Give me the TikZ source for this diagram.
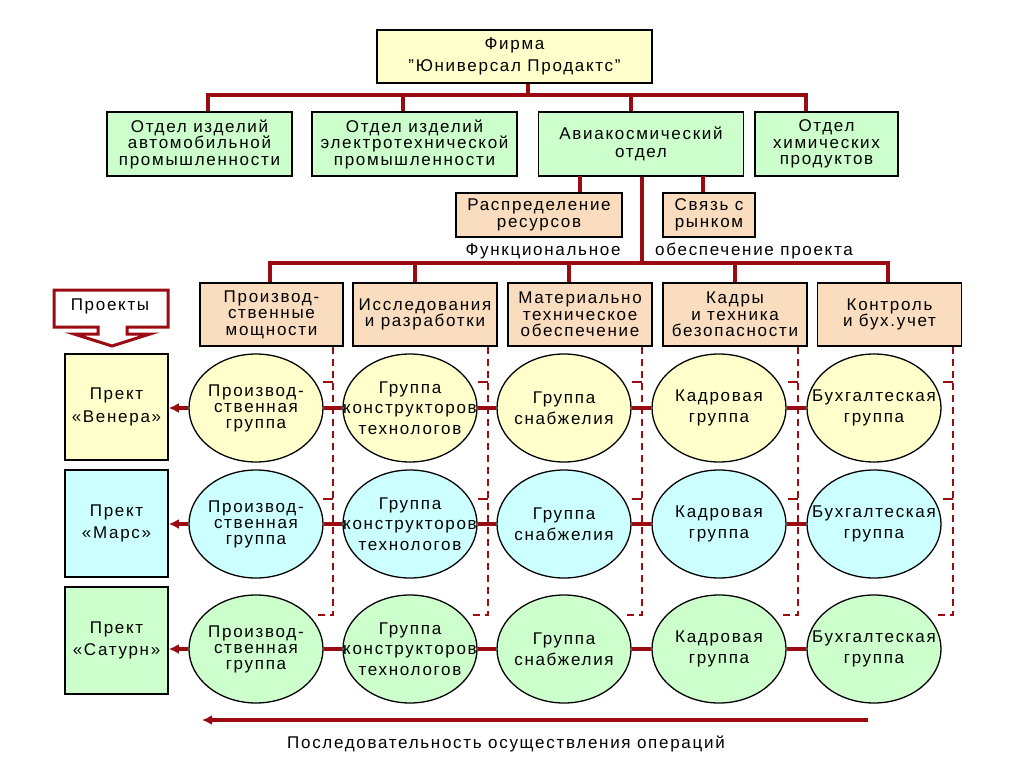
\documentclass[tikz,border=0pt]{standalone}
\usepackage{fontspec}
\setmainfont{Liberation Sans}[LetterSpace=10]
\usetikzlibrary{arrows.meta,shapes.geometric}
\definecolor{cred}{RGB}{155,12,18}
\definecolor{cyel}{RGB}{255,255,204}
\definecolor{cgrn}{RGB}{204,255,204}
\definecolor{cblu}{RGB}{204,255,255}
\definecolor{cpch}{RGB}{250,220,190}
\newcommand\fsz{\fontsize{17}{16.5}\selectfont}
\newcommand\fsze{\fontsize{17}{20.5}\selectfont}
\newcommand\qq{\char"22\relax}
\begin{document}
\begin{tikzpicture}[x=1pt,y=-1pt,
  bx/.style={draw=black, line width=1.6pt, align=center, inner sep=0pt, font=\fsz},
  conn/.style={draw=cred, line width=3.4pt},
  rowc/.style={draw=cred, line width=3.2pt},
  dsh/.style={draw=cred, line width=1.7pt, dash pattern=on 7pt off 5pt},
  ell/.style={draw=black, line width=1.3pt, ellipse, minimum width=134pt, minimum height=108pt, inner sep=0pt},
  etxt/.style={align=center, font=\fsze, inner sep=0pt},
  tip/.style={-{Latex[length=10pt,width=10pt]}}
]
\useasboundingbox (0,0) rectangle (1024,767);

% top level
\node[bx, fill=cyel, minimum width=275pt, minimum height=53pt] (firm) at (514.5,56.5) {Фирма\\[6pt]\qq Юниверсал Продактс\qq};

\node[bx, fill=cgrn, minimum width=185pt, minimum height=64pt] (d1) at (199.5,144) {Отдел изделий\\автомобильной\\промышленности};
\node[bx, fill=cgrn, minimum width=205pt, minimum height=64pt] (d2) at (414.5,144) {Отдел изделий\\электротехнической\\промышленности};
\node[bx, fill=cgrn, minimum width=205pt, minimum height=64pt] (d3) at (641,144) {Авиакосмический\\[2pt]отдел};
\node[bx, fill=cgrn, minimum width=143pt, minimum height=64pt] (d4) at (826.5,144) {Отдел\\химических\\продуктов};

\coordinate (fb) at (528,95);
\coordinate (b1) at (208,95);
\coordinate (b2) at (403,95);
\coordinate (b3) at (631,95);
\coordinate (b4) at (806,95);
\draw[conn] (firm.south -| fb) -- (fb);
\draw[conn] (b1 |- d1.north) -- (b1) -- (b4) -- (b4 |- d4.north);
\draw[conn] (b2) -- (b2 |- d2.north);
\draw[conn] (b3) -- (b3 |- d3.north);

% functional support
\node[bx, fill=cpch, minimum width=166pt, minimum height=44pt] (res) at (539,215) {Распределение\\ресурсов};
\node[bx, fill=cpch, minimum width=92pt, minimum height=44pt] (mkt) at (709,215) {Связь с\\рынком};
\node[font=\fsz, inner sep=0pt] (lab1) at (543,251) {Функциональное};
\node[font=\fsz, inner sep=0pt] (lab2) at (754,251) {обеспечение проекта};

\coordinate (r1) at (580,176);
\coordinate (r2) at (703,176);
\coordinate (fc) at (642,263);
\draw[conn] (r1) -- (r1 |- res.north);
\draw[conn] (r2) -- (r2 |- mkt.north);
\draw[conn] (d3.south -| fc) -- (fc);

% functional boxes
\node[bx, fill=cpch, minimum width=143pt, minimum height=63pt] (f1) at (271.5,314.5) {Производ-\\ственные\\мощности};
\node[bx, fill=cpch, minimum width=144pt, minimum height=63pt] (f2) at (425,314.5) {Исследования\\и разработки};
\node[bx, fill=cpch, minimum width=144pt, minimum height=63pt] (f3) at (580,314.5) {Материально\\техническое\\обеспечение};
\node[bx, fill=cpch, minimum width=144pt, minimum height=63pt] (f4) at (735,314.5) {Кадры\\и техника\\безопасности};
\node[bx, fill=cpch, minimum width=144pt, minimum height=63pt] (f5) at (889.5,314.5) {Контроль\\и бух.учет};

\coordinate (g1) at (270,263);
\coordinate (g2) at (415,263);
\coordinate (g3) at (569,263);
\coordinate (g4) at (735,263);
\coordinate (g5) at (888,263);
\draw[conn] (g1 |- f1.north) -- (g1) -- (g5) -- (g5 |- f5.north);
\draw[conn] (g2) -- (g2 |- f2.north);
\draw[conn] (g3) -- (g3 |- f3.north);
\draw[conn] (g4) -- (g4 |- f4.north);

% dashed lines
\foreach \f/\dx in {f1/11,f2/10,f3/11,f4/10,f5/9}{
  \draw[dsh] ([xshift=-\dx pt]\f.south east) -- ++(0,268) -- ++(-19,0);
  \draw[dsh, dash pattern=on 10pt off 0pt] ([xshift=-\dx pt]\f.south east) ++(0,35) -- ++(-10,0);
  \draw[dsh, dash pattern=on 10pt off 0pt] ([xshift=-\dx pt]\f.south east) ++(0,152) -- ++(-10,0);
}

% projects callout
\draw[line width=3pt, draw=cred, fill=white, line join=miter]
  (54,290) -- (168,290) -- (168,327) -- (127,327) -- (127,334) -- (150,334) -- (112,346)
  -- (74,334) -- (98,334) -- (98,327) -- (54,327) -- cycle;
\node[font=\fsz, inner sep=0pt] (proj) at (110,306) {Проекты};

% project boxes
\node[bx, fill=cyel, minimum width=103pt, minimum height=106pt] (p1) at (116.5,407) {Прект\\[6pt]«Венера»};
\node[bx, fill=cblu, minimum width=103pt, minimum height=107pt] (p2) at (116.5,523.5) {Прект\\[6pt]«Марс»};
\node[bx, fill=cgrn, minimum width=103pt, minimum height=107pt] (p3) at (116.5,640.5) {Прект\\[6pt]«Сатурн»};

% ellipses
\foreach \r/\y/\c/\w in {1/408/cyel/4,2/524/cblu/3.2,3/649/cgrn/3.2}{
  \node[ell, fill=\c] (e\r1) at (256,\y) {};
  \node[ell, fill=\c] (e\r2) at (410,\y) {};
  \node[ell, fill=\c] (e\r3) at (564,\y) {};
  \node[ell, fill=\c] (e\r4) at (719,\y) {};
  \node[ell, fill=\c] (e\r5) at (874,\y) {};
  \node[etxt, font=\fontsize{17}{16}\selectfont] (t\r1) at (e\r1) {Производ-\\ственная\\группа};
  \node[etxt] (t\r2) at (e\r2) {Группа\\конструкторов\\технологов};
  \node[etxt] (t\r3) at (e\r3) {Группа\\снабжелия};
  \node[etxt] (t\r4) at (e\r4) {Кадровая\\группа};
  \node[etxt] (t\r5) at (e\r5) {Бухгалтеская\\группа};
  \draw[rowc, line width=\w pt] (e\r1.east) -- (e\r2.west);
  \draw[rowc, line width=\w pt] (e\r2.east) -- (e\r3.west);
  \draw[rowc, line width=\w pt] (e\r3.east) -- (e\r4.west);
  \draw[rowc, line width=\w pt] (e\r4.east) -- (e\r5.west);
  \draw[rowc, line width=\w pt, tip] (e\r1.west) -- (p\r.east |- e\r1.west);
}

% sequence arrow
\coordinate (sR) at (868,720);
\coordinate (sL) at (202,720);
\draw[conn, tip] (sR) -- (sL);
\node[font=\fsz, inner sep=0pt] (seq) at (506,744) {Последовательность осуществления операций};
\end{tikzpicture}
\end{document}
